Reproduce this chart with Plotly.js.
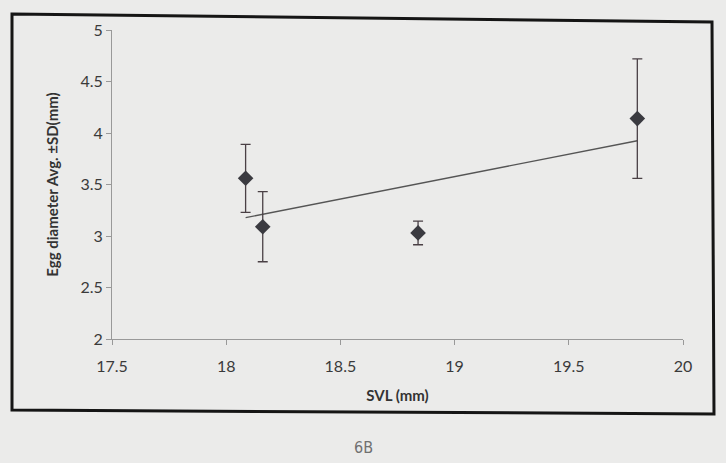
<!DOCTYPE html>
<html>
<head>
<meta charset="utf-8">
<script src="https://cdn.plot.ly/plotly-3.0.1.min.js"></script>
<style>html,body{margin:0;padding:0;background:#ebebea;}#chart{width:726px;height:463px;}</style>
</head>
<body>
<div id="chart"></div>
<script>
// Data
const svl = [18.085, 18.16, 18.84, 19.80];
const eggDiameter = [3.56, 3.09, 3.03, 4.14];
const eggSD = [0.33, 0.34, 0.115, 0.58];
const xTicks = [17.5, 18, 18.5, 19, 19.5, 20];
const yTicks = [2, 2.5, 3, 3.5, 4, 4.5, 5];

// Linear trendline (least squares) from the data
const n = svl.length;
const mx = svl.reduce((a,b)=>a+b,0)/n;
const my = eggDiameter.reduce((a,b)=>a+b,0)/n;
let sxy = 0, sxx = 0;
for (let i=0;i<n;i++){ sxy += (svl[i]-mx)*(eggDiameter[i]-my); sxx += (svl[i]-mx)**2; }
const slope = sxy/sxx, intercept = my - slope*mx;
const trendX = [Math.min(...svl), Math.max(...svl)];
const trendY = trendX.map(x => intercept + slope*x);

const font = "Lato, 'Open Sans', sans-serif";

const traces = [
  {
    x: trendX, y: trendY, mode: 'lines', type: 'scatter',
    line: {color: '#555', width: 1.3}, hoverinfo: 'skip', showlegend: false
  },
  {
    x: svl, y: eggDiameter, mode: 'markers', type: 'scatter',
    marker: {symbol: 'diamond', size: 12, color: '#3a3a40'},
    error_y: {type: 'data', array: eggSD, visible: true, color: '#4a4045', thickness: 1.3, width: 5},
    showlegend: false
  }
];

const L = 112, T = 30, W = 571, H = 309;
const px = v => (v - L)/W;
const py = v => (T + H - v)/H;

const layout = {
  width: 726, height: 463,
  margin: {l: L, r: 726 - L - W, t: T, b: 463 - T - H},
  paper_bgcolor: '#ebebea',
  plot_bgcolor: '#ebebea',
  font: {family: font, color: '#333'},
  xaxis: {
    range: [17.5, 20], tickvals: xTicks, ticktext: xTicks.map(String),
    showgrid: false, zeroline: false, showline: true, linecolor: '#999', linewidth: 1,
    ticks: 'outside', ticklen: 5, tickcolor: '#999', ticklabelstandoff: 8,
    tickfont: {size: 16, color: '#3a3a3a', family: font},
    title: {text: '<b>SVL (mm)</b>', font: {size: 15, color: '#333', family: font}, standoff: 16}
  },
  yaxis: {
    range: [2, 5], tickvals: yTicks, ticktext: yTicks.map(String),
    showgrid: false, zeroline: false, showline: true, linecolor: '#999', linewidth: 1,
    ticks: 'outside', ticklen: 5, tickcolor: '#999',
    tickfont: {size: 16, color: '#3a3a3a', family: font},
    title: {text: '<b>Egg diameter Avg. ±SD(mm)</b>', font: {size: 15, color: '#333', family: font}, standoff: 18}
  },
  shapes: [
    {
      type: 'path', xref: 'paper', yref: 'paper',
      path: `M ${px(12)} ${py(14)} L ${px(712)} ${py(22)} L ${px(714)} ${py(414)} L ${px(12)} ${py(410)} Z`,
      line: {color: '#151515', width: 3}, fillcolor: 'rgba(0,0,0,0)', layer: 'below'
    }
  ],
  annotations: [
    {
      text: '6B', xref: 'paper', yref: 'paper', x: px(363), y: py(447),
      xanchor: 'center', yanchor: 'middle',
      showarrow: false, font: {size: 16, color: '#707070', family: "'DejaVu Sans Condensed', sans-serif"}
    }
  ]
};

Plotly.newPlot('chart', traces, layout, {displayModeBar: false, staticPlot: true});
</script>
</body>
</html>
